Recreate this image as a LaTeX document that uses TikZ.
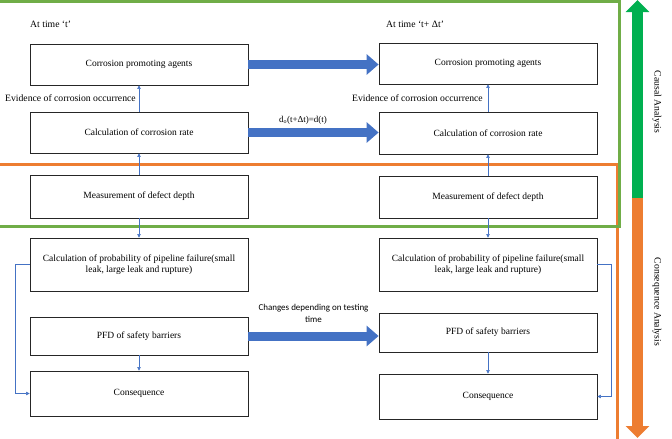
\documentclass[tikz,border=0pt]{standalone}
\usepackage{fontspec}
\setmainfont{Liberation Serif}
\newfontfamily\calibri{Carlito}
\usetikzlibrary{arrows.meta}
\definecolor{cgreen}{RGB}{112,173,71}
\definecolor{corange}{RGB}{237,125,49}
\definecolor{cblue}{RGB}{68,114,196}
\definecolor{cdarkgreen}{RGB}{0,176,80}

\begin{document}
\begin{tikzpicture}[x=1pt, y=-1pt,
    box/.style={draw=black!85, line width=0.8pt, minimum width=218pt, align=center,
        inner sep=0pt, font=\fontsize{9.5}{11.5}\selectfont},
    lbl/.style={text=black, font=\fontsize{9.7}{11}\selectfont},
    flow/.style={cblue, line width=0.5pt, -{Triangle[width=3.5pt,length=3.5pt]}},
    shift arrow/.style={cblue, line width=9pt, -{Triangle[width=20pt,length=12pt]}},
    side arrow/.style={line width=11pt, -{Triangle[width=23pt,length=12pt]}}]

\useasboundingbox (0,0) rectangle (672,439);

% frames
\draw [corange, line width=3pt] (-5,164) -- (617,164) -- (617,445);
\draw [cgreen, line width=3pt] (-5,1) -- (619,1) -- (619,226) -- (-5,226);

% time labels
\node [lbl, anchor=west, inner sep=0pt] (timeL) at (30,24) {At time ‘t’};
\node [lbl, anchor=west, inner sep=0pt] (timeR) at (386,24) {At time ‘t+ Δt’};

% boxes at time t
\node [box, minimum height=41pt] (agentsL) at (139,64.5) {Corrosion promoting agents};
\node [box, minimum height=41pt] (rateL) at (139,132.5) {Calculation of corrosion rate};
\node [box, minimum height=43pt] (depthL) at (139,196.5) {Measurement of defect depth};
\node [box, minimum height=53pt] (probL) at (139,264.5) {Calculation of probability of pipeline failure(small\\leak, large leak and rupture)};
\node [box, minimum height=38pt] (pfdL) at (139,336) {PFD of safety barriers};
\node [box, minimum height=45pt] (consL) at (139,393.5) {Consequence};

% boxes at time t+dt
\node [box, minimum height=41pt] (agentsR) at (488,63.5) {Corrosion promoting agents};
\node [box, minimum height=42pt] (rateR) at (488,133) {Calculation of corrosion rate};
\node [box, minimum height=42pt] (depthR) at (488,197) {Measurement of defect depth};
\node [box, minimum height=53pt] (probR) at (488,264.5) {Calculation of probability of pipeline failure(small\\leak, large leak and rupture)};
\node [box, minimum height=39pt] (pfdR) at (488,332.5) {PFD of safety barriers};
\node [box, minimum height=45pt] (consR) at (488,396.5) {Consequence};

% thin links
\draw [flow] (rateL) -- (agentsL) node [midway, left, lbl, inner sep=3pt] {Evidence of corrosion occurrence};
\draw [flow] (depthL) -- (rateL);
\draw [flow] (depthL) -- (probL);
\draw [flow] (pfdL) -- (consL);
\draw [flow] (probL.west) -- ++(-14,0) |- (consL.west);

\draw [flow] (rateR) -- (agentsR) node [midway, left, lbl, inner sep=5pt] {Evidence of corrosion occurrence};
\draw [flow] (depthR) -- (rateR);
\draw [flow] (depthR) -- (probR);
\draw [flow] (pfdR) -- (consR);
\draw [flow] (probR.east) -- ++(14,0) |- (consR.east);

% shifts in time
\draw [shift arrow] (agentsL.east) -- (agentsL.east -| agentsR.west);
\draw [shift arrow] (rateL.east) -- (rateL.east -| rateR.west);
\draw [shift arrow] (pfdL.east) -- (pfdL.east -| pfdR.west);
\node [font=\fontsize{9}{11}\selectfont] (depthlbl) at (303,120) {d\textsubscript{o}(t+Δt)=d(t)};
\node [font=\calibri\fontsize{9}{12}\selectfont, align=center] (testlbl) at (313.5,313) {Changes depending on testing\\time};

% analysis arrow
\coordinate (split) at (637.5,198);
\coordinate (causalend) at (637.5,0);
\coordinate (conseqend) at (637.5,438);
\draw [side arrow, cdarkgreen] (split) -- (causalend);
\draw [side arrow, corange] (split) -- (conseqend);
\node [lbl, rotate=-90] (causal) at (657,102) {Causal Analysis};
\node [lbl, rotate=-90] (conseq) at (657,302) {Consequence Analysis};

\end{tikzpicture}
\end{document}
